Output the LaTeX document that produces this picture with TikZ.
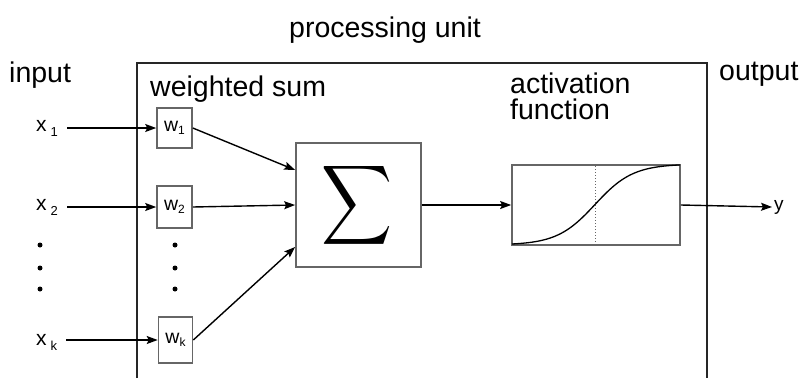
\documentclass[tikz,border=0pt]{standalone}
\usepackage{fontspec}
\usepackage{graphicx}
\setmainfont{Liberation Sans}
\usetikzlibrary{arrows.meta}
\newcommand{\xlab}[1]{x\hspace{4pt}\raisebox{-5pt}{\fontsize{13}{15}\selectfont #1}}
\newcommand{\wlab}[1]{w\raisebox{-3pt}{\fontsize{12}{14}\selectfont #1}}
\begin{document}
\begin{tikzpicture}[x=1pt,y=-1pt,
  lbl/.style={font=\fontsize{28.5}{32}\selectfont, inner sep=0pt, anchor=base west},
  xl/.style={font=\fontsize{21}{24}\selectfont, inner sep=0pt, anchor=west},
  wbox/.style={draw=black!60, line width=1.6pt, minimum width=35pt, inner sep=0pt, font=\fontsize{19.5}{22}\selectfont},
  bigbox/.style={draw=black!60, line width=1.7pt, inner sep=0pt},
  arr/.style={line width=1.4pt, -{Stealth[length=11pt,width=8pt,inset=2pt]}},
  dotmark/.style={fill=black, circle, inner sep=0pt, minimum size=5pt}
]
\useasboundingbox (0,0) rectangle (808,378);

% processing unit outline (open at bottom)
\draw[line width=1.5pt, black!85] (137,378) -- (137,63) -- (707,63) -- (707,378);

% texts
\node[lbl] (pu) at (289,37) {processing unit};
\node[lbl] (inp) at (9,82) {input};
\node[lbl] (ws) at (150,96) {weighted sum};
\node[lbl] (af1) at (510,93) {activation};
\node[lbl] (af2) at (510,119) {function};
\node[lbl] (outp) at (719,80) {output};

% inputs
\node[xl] (x1) at (36,128) {\xlab{1}};
\node[xl] (x2) at (36,207) {\xlab{2}};
\node[xl] (xk) at (36,342) {\xlab{k}};
\node[dotmark] (d1) at (40,245) {};
\node[dotmark] (d2) at (40,268) {};
\node[dotmark] (d3) at (40,289) {};

% weights
\node[wbox, minimum height=40pt] (w1) at (174.5,128) {\wlab{1}};
\node[wbox, minimum height=42pt] (w2) at (174.5,207) {\wlab{2}};
\node[wbox, minimum width=34pt, minimum height=46pt] (wk) at (175.5,340) {\wlab{k}};
\node[dotmark] (e1) at (175,245) {};
\node[dotmark] (e2) at (175,268) {};
\node[dotmark] (e3) at (175,289) {};

% sum
\node[bigbox, minimum width=125pt, minimum height=124pt] (sig) at (358.5,205) {};
\node[inner sep=0pt] (sgl) at (357.5,205) {\resizebox*{71pt}{89pt}{$\displaystyle\sum$}};

% activation
\node[bigbox, minimum width=168pt, minimum height=80pt] (act) at (596,205) {};
\draw[dotted, black!60, line width=1pt] (595,166) -- (595,244);
\draw[line width=1.3pt] plot[domain=512:680, samples=100, smooth] (\x, {245 - 81/(1+exp(-(\x-595)/19))});

\node[font=\fontsize{19}{22}\selectfont, inner sep=0pt, anchor=west] (y) at (774,207) {y};

% connectors
\draw[arr, shorten <=9pt] (x1.east) -- (w1.west);
\draw[arr, shorten <=9pt] (x2.east) -- (w2.west);
\draw[arr, shorten <=9pt] (xk.east |- wk.west) -- (wk.west);
\draw[arr] (w1.east) -- ([yshift=35pt]sig.west);
\draw[arr] (w2.east) -- (sig.west);
\draw[arr] (wk.east) -- ([yshift=-42pt]sig.west);
\draw[arr] (sig.east) -- (act.west);
\draw[arr] (act.east) -- ([xshift=-2pt]y.west);
\end{tikzpicture}
\end{document}
